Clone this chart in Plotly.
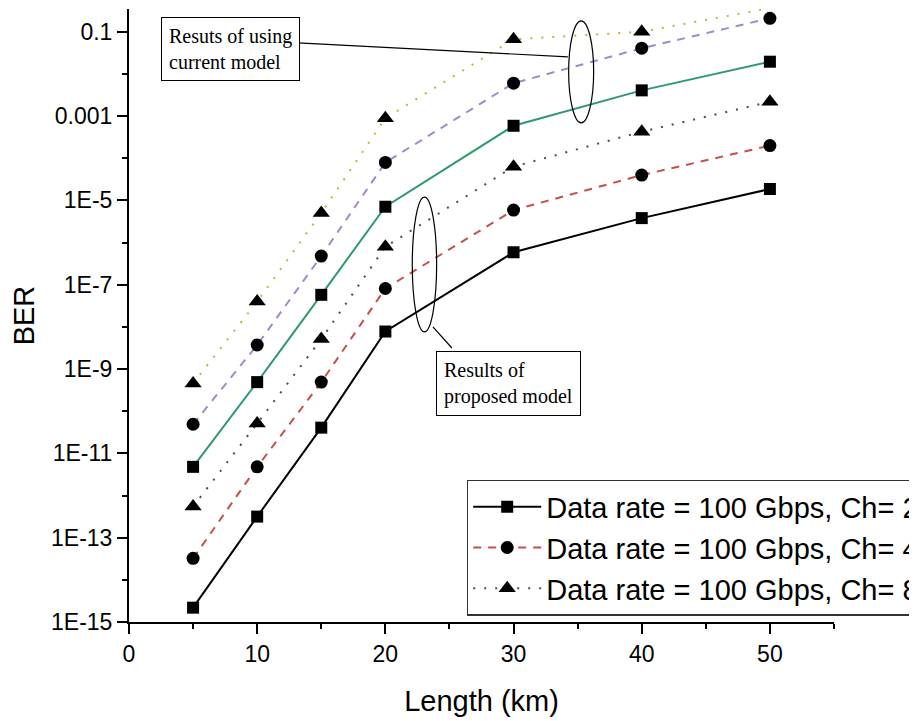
import plotly.graph_objects as go

length_km = [5, 10, 15, 20, 30, 40, 50]

# log10(BER)
prop_ch2 = [-14.66, -12.50, -10.39, -8.11, -6.23, -5.42, -4.73]
prop_ch4 = [-13.49, -11.32, -9.31, -7.09, -5.23, -4.40, -3.70]
prop_ch8 = [-12.26, -10.29, -8.29, -6.10, -4.20, -3.37, -2.66]
curr_ch2 = [-11.32, -9.31, -7.24, -5.15, -3.23, -2.39, -1.71]
curr_ch4 = [-10.31, -8.43, -6.32, -4.10, -2.22, -1.39, -0.68]
curr_ch8 = [-9.34, -7.40, -5.30, -3.05, -1.18, -1.00, -0.44]

legend_names = ["Data rate = 100 Gbps, Ch= 2",
                "Data rate = 100 Gbps, Ch= 4",
                "Data rate = 100 Gbps, Ch= 8"]

y_tick_vals = [1e-15, 1e-13, 1e-11, 1e-9, 1e-7, 1e-5, 1e-3, 1e-1]
y_tick_text = ["1E-15", "1E-13", "1E-11", "1E-9", "1E-7", "1E-5", "0.001", "0.1"]
y_minor_vals = [1e-14, 1e-12, 1e-10, 1e-8, 1e-6, 1e-4, 1e-2]
x_tick_vals = [0, 10, 20, 30, 40, 50]
x_tick_text = ["0", "10", "20", "30", "40", "50"]

def tolin(v):
    return [10 ** a for a in v]

series = [
    (prop_ch2, legend_names[0], "black", "solid", "square", 12, True),
    (prop_ch4, legend_names[1], "#c4504c", "8px,7px", "circle", 13, True),
    (prop_ch8, legend_names[2], "#34506e", "2px,9px", "triangle-up", 15, True),
    (curr_ch2, "current Ch=2", "#2e9a6c", "solid", "square", 12, False),
    (curr_ch4, "current Ch=4", "#a488c8", "8px,7px", "circle", 13, False),
    (curr_ch8, "current Ch=8", "#b8b83a", "2px,9px", "triangle-up", 15, False),
]

fig = go.Figure()
for vals, name, col, dash, sym, size, show in series:
    fig.add_trace(go.Scatter(
        x=length_km, y=tolin(vals), name=name, mode="lines+markers",
        line=dict(color=col, width=2, dash=dash),
        marker=dict(symbol=sym, size=size, color="black"),
        showlegend=show, cliponaxis=False))

axis_font = dict(family="Liberation Sans, Arial", size=23, color="black")

fig.update_layout(
    width=917, height=721,
    margin=dict(l=121, r=91, t=1, b=107, autoexpand=False),
    plot_bgcolor="white", paper_bgcolor="white",
    font=dict(family="Liberation Sans, Arial", color="black"),
    xaxis=dict(range=[0, 55], showline=True, linecolor="black", linewidth=2,
               automargin=False,
               ticks="outside", ticklen=10, tickwidth=2, tickcolor="black",
               tickvals=x_tick_vals, ticktext=x_tick_text, tickfont=axis_font,
               minor=dict(tickvals=[5, 15, 25, 35, 45, 55], ticks="outside",
                          ticklen=5, tickwidth=2, tickcolor="black"),
               showgrid=False, zeroline=False,
               title=dict(text="Length (km)", font=dict(size=29), standoff=25)),
    yaxis=dict(type="log", range=[-15, -0.46], showline=True, linecolor="black",
               linewidth=2, ticks="outside", ticklen=10, tickwidth=2,
               automargin=False,
               tickcolor="black", tickvals=y_tick_vals, ticktext=y_tick_text,
               tickfont=axis_font,
               minor=dict(tickvals=y_minor_vals, ticks="outside", ticklen=5,
                          tickwidth=2, tickcolor="black"),
               showgrid=False, zeroline=False,
               title=dict(text="BER", font=dict(size=29), standoff=12)),
    legend=dict(x=0.479, y=0.2317, xanchor="left", yanchor="top",
                bgcolor="white", bordercolor="#333333", borderwidth=1.5,
                font=dict(size=29, family="Liberation Sans, Arial"),
                itemwidth=68, tracegroupgap=0),
    showlegend=True,
)

# ellipses and connectors
fig.add_shape(type="circle", xref="x", yref="y", x0=34.3, x1=36.25,
              y0=6.9e-4, y1=0.182, line=dict(color="black", width=1.2))
fig.add_shape(type="circle", xref="x", yref="y", x0=22.1, x1=24.0,
              y0=7.6e-9, y1=1.2e-5, line=dict(color="black", width=1.2))
fig.add_shape(type="line", xref="x", yref="y", x0=13.18, x1=34.24,
              y0=0.0546, y1=0.0254, line=dict(color="black", width=1.2))
fig.add_shape(type="line", xref="x", yref="y", x0=23.71, x1=25.19,
              y0=1e-8, y1=3.16e-9, line=dict(color="black", width=1.2))

serif = dict(family="Liberation Serif, Times New Roman", size=20, color="black")
fig.add_annotation(x=7.88, y=-1.42, xref="x", yref="y", showarrow=False,
                   text="Resuts of using<br>current model", align="left",
                   font=serif, bgcolor="white", bordercolor="black",
                   borderwidth=1, borderpad=7)
fig.add_annotation(x=29.64, y=-9.34, xref="x", yref="y", showarrow=False,
                   text="Results of<br>proposed model", align="left",
                   font=serif, bgcolor="white", bordercolor="black",
                   borderwidth=1, borderpad=7)

fig.write_html("out.html")
